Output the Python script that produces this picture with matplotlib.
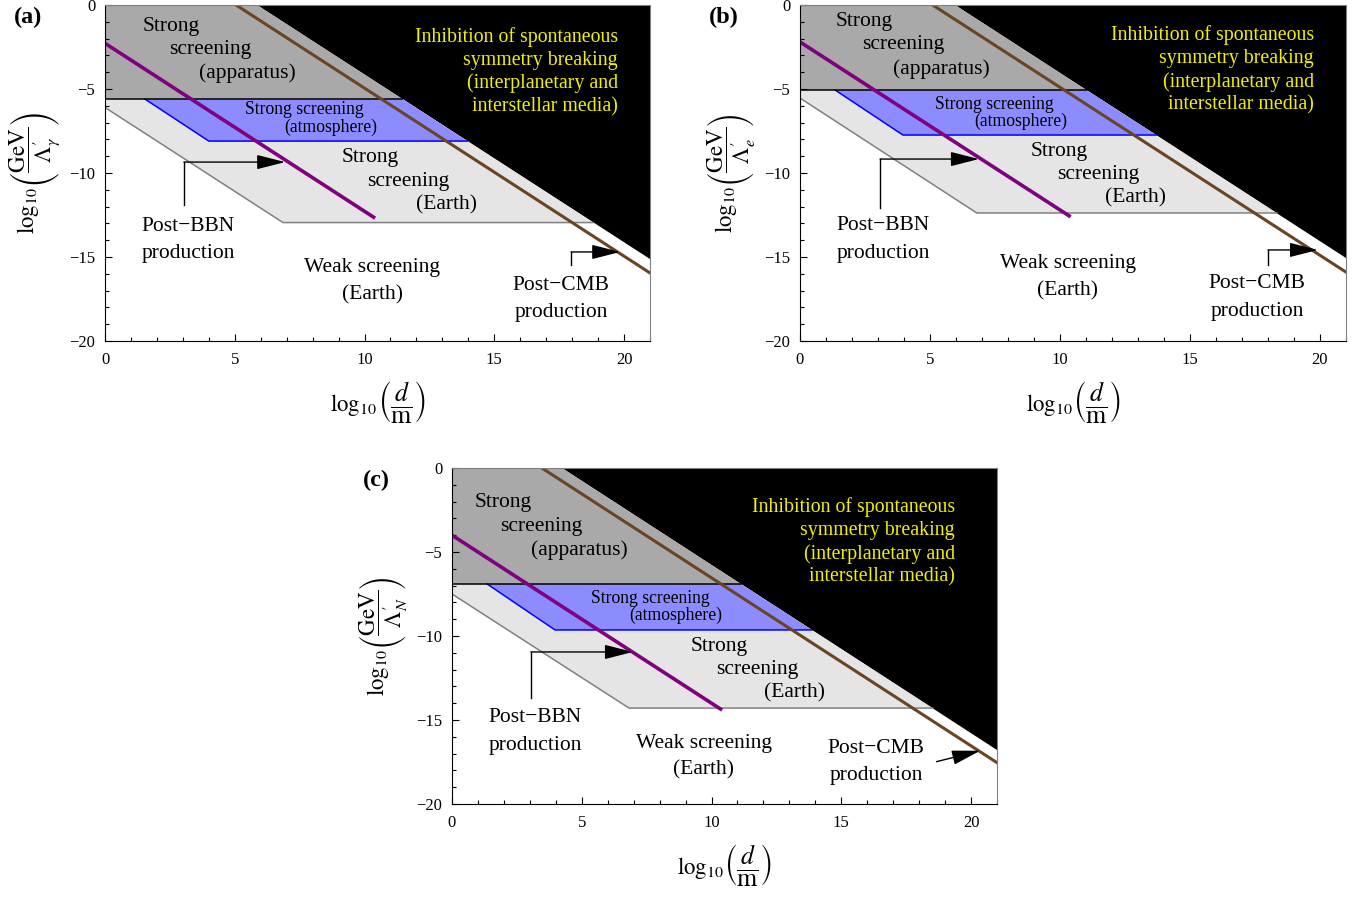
import matplotlib
matplotlib.use("Agg")
import matplotlib.pyplot as plt
from matplotlib.patches import Polygon
from matplotlib.ticker import MultipleLocator

plt.rcParams['font.family'] = 'serif'
plt.rcParams['font.serif'] = ['Liberation Serif', 'DejaVu Serif']
plt.rcParams['mathtext.fontset'] = 'stix'

# per panel values (log10 units)
panel_names = ['(a)', '(b)', '(c)']
coupling = [r'\gamma', r'e', r'N']
black_edge = [5.86, 5.96, 4.23]      # y = c - x, lower edge of the black region
cmb_line = [5.05, 5.10, 3.46]        # y = c - x, post-CMB production
bbn_line = [-2.28, -2.20, -4.00]     # y = c - x, post-BBN production
bbn_end = [10.35, 10.35, 10.35]
apparatus_y = [-5.60, -5.06, -6.90]
atmos_y = [-8.10, -7.74, -9.64]
atmos_x_top = [1.54, 1.35, 1.35]
atmos_x_bot = [4.00, 3.96, 3.97]
earth_y_left = [-6.10, -5.54, -7.50]
earth_y = [-12.95, -12.38, -14.29]
earth_x_bot = [6.86, 6.80, 6.82]

XMAX, YMIN = 21, -20

DARK_GRAY = '#a9a9a9'
LIGHT_GRAY = '#e5e5e5'
BLUE_FILL = '#8c8cff'
BROWN = '#6b4523'
PURPLE = '#800080'
YELLOW = '#f0f000'

# figure-pixel layout of the three axes: left, right, top, bottom
boxes = [(105, 650, 5, 341), (800, 1346, 5, 341), (452, 997, 468, 804)]
panel_label_px = [(28, 17), (724, 17), (376, 480)]

# text positions (data coords) per panel
txt_app = [[(2.54, -1.25), (4.05, -2.62), (5.50, -4.05)],
           [(2.46, -1.00), (3.96, -2.38), (5.42, -3.80)],
           [(1.97, -2.08), (3.43, -3.51), (4.89, -4.88)]]
txt_atm = [[(7.67, -6.25), (8.70, -7.26)],
           [(7.46, -5.90), (8.50, -6.90)],
           [(7.63, -7.74), (8.63, -8.75)]]
txt_earth = [[(10.20, -9.05), (11.68, -10.50), (13.14, -11.90)],
             [(9.96, -8.70), (11.46, -10.06), (12.90, -11.50)],
             [(10.29, -10.60), (11.75, -12.00), (13.20, -13.40)]]
txt_weak = [(10.29, -15.65), (10.30, -15.40), (9.71, -16.37)]
txt_bbn = [(3.2, -13.20), (3.2, -13.15), (3.2, -14.88)]
txt_cmb = [(17.57, -16.67), (17.58, -16.60), (16.34, -16.67)]
txt_yellow = [(19.77, -1.90), (19.77, -1.80), (19.38, -2.32)]

bbn_arrow = [(3.04, -11.90, -9.35, 6.94), (3.08, -12.10, -9.17, 6.88),
             (3.04, -13.70, -10.95, 6.97)]
cmb_arrow = [(17.96, -15.50, -14.70, 19.85), (18.00, -15.50, -14.58, 19.92), None]

W, H = 1369, 898
fig = plt.figure(figsize=(W / 100, H / 100), dpi=100)

FS = 15.5
LINE = 1.62  # line spacing in data units


def draw_panel(i):
    l, r, t, b = boxes[i]
    ax = fig.add_axes([l / W, 1 - b / H, (r - l) / W, (b - t) / H])
    ax.set_xlim(0, XMAX)
    ax.set_ylim(YMIN, 0)

    c = black_edge[i]
    ya, yb, ye = apparatus_y[i], atmos_y[i], earth_y[i]

    ax.add_patch(Polygon([(c, 0), (XMAX, 0), (XMAX, c - XMAX)], closed=True,
                         facecolor='black', edgecolor='none', zorder=1))
    ax.add_patch(Polygon([(0, 0), (c, 0), (c - ya, ya), (0, ya)], closed=True,
                         facecolor=DARK_GRAY, edgecolor='none', zorder=1))
    ax.add_patch(Polygon([(0, ya), (c - ya, ya), (c - ye, ye), (earth_x_bot[i], ye),
                          (0, earth_y_left[i])], closed=True,
                         facecolor=LIGHT_GRAY, edgecolor='none', zorder=1))
    ax.add_patch(Polygon([(atmos_x_top[i], ya), (c - ya, ya), (c - yb, yb),
                          (atmos_x_bot[i], yb)], closed=True,
                         facecolor=BLUE_FILL, edgecolor='none', zorder=2))
    ax.plot([0, earth_x_bot[i], c - ye], [earth_y_left[i], ye, ye],
            color='#808080', lw=1.1, zorder=3)
    ax.plot([atmos_x_top[i], atmos_x_bot[i], c - yb], [ya, yb, yb],
            color='#0000ff', lw=1.1, zorder=3)
    ax.plot([0, c - ya], [ya, ya], color='black', lw=1.1, zorder=3)

    # production lines
    ax.plot([cmb_line[i], XMAX], [0, cmb_line[i] - XMAX], color=BROWN, lw=2.2, zorder=4)
    ax.plot([0, bbn_end[i]], [bbn_line[i], bbn_line[i] - bbn_end[i]],
            color=PURPLE, lw=2.6, zorder=4)

    # texts
    for (x, y), s in zip(txt_app[i], ['Strong', 'screening', '(apparatus)']):
        ax.text(x, y, s, ha='center', va='center', fontsize=FS, zorder=6)
    for (x, y), s in zip(txt_atm[i], ['Strong screening', '(atmosphere)']):
        ax.text(x, y, s, ha='center', va='center', fontsize=12.7, zorder=6)
    for (x, y), s in zip(txt_earth[i], ['Strong', 'screening', '(Earth)']):
        ax.text(x, y, s, ha='center', va='center', fontsize=FS, zorder=6)
    x, y = txt_weak[i]
    ax.text(x, y, 'Weak screening', ha='center', va='center', fontsize=FS, zorder=6)
    ax.text(x, y - LINE, '(Earth)', ha='center', va='center', fontsize=FS, zorder=6)
    x, y = txt_bbn[i]
    ax.text(x, y, 'Post\u2212BBN', ha='center', va='center', fontsize=FS, zorder=6)
    ax.text(x, y - LINE, 'production', ha='center', va='center', fontsize=FS, zorder=6)
    x, y = txt_cmb[i]
    ax.text(x, y, 'Post\u2212CMB', ha='center', va='center', fontsize=FS, zorder=6)
    ax.text(x, y - LINE, 'production', ha='center', va='center', fontsize=FS, zorder=6)
    x, y = txt_yellow[i]
    for k, s in enumerate(['Inhibition of spontaneous', 'symmetry breaking',
                           '(interplanetary and', 'interstellar media)']):
        ax.text(x, y - k * 1.39, s, ha='right', va='center', fontsize=14.3,
                color=YELLOW, zorder=6)

    # arrows
    ap = dict(arrowstyle='-|>,head_length=1.1,head_width=0.28', color='black',
              lw=1.0, mutation_scale=16, shrinkA=0, shrinkB=0)
    x0, y0, yc, xt = bbn_arrow[i]
    ax.plot([x0, x0], [y0, yc], color='black', lw=1.0, zorder=5)
    ax.annotate('', xy=(xt, yc), xytext=(x0, yc), arrowprops=ap, zorder=5)
    if cmb_arrow[i] is not None:
        x0, y0, yc, xt = cmb_arrow[i]
        ax.plot([x0, x0], [y0, yc], color='black', lw=1.0, zorder=5)
        ax.annotate('', xy=(xt, yc), xytext=(x0, yc), arrowprops=ap, zorder=5)
    else:
        ax.annotate('', xy=(20.35, -16.83), xytext=(18.67, -17.48),
                    arrowprops=ap, zorder=5)

    # axes styling
    ax.xaxis.set_major_locator(MultipleLocator(5))
    ax.xaxis.set_minor_locator(MultipleLocator(1))
    ax.yaxis.set_major_locator(MultipleLocator(5))
    ax.yaxis.set_minor_locator(MultipleLocator(1))
    ax.tick_params(which='both', direction='in', top=False, right=False,
                   labelsize=12, width=0.8)
    ax.tick_params(axis='x', which='major', pad=8)
    ax.tick_params(axis='y', which='major', pad=7)
    ax.tick_params(which='major', length=5)
    ax.tick_params(which='minor', length=3)
    for sp in ax.spines.values():
        sp.set_linewidth(0.8)
        sp.set_zorder(7)
    ax.spines['top'].set_color('#808080')
    ax.spines['right'].set_color('#808080')

    ax.set_ylabel(r'$\log_{10}\!\left(\dfrac{\mathrm{GeV}}{\Lambda^{\prime}_{%s}}\right)$'
                  % coupling[i], fontsize=16.5)
    ax.yaxis.set_label_coords(-0.077, 0.5)

    # x label: log part plus a somewhat larger fraction, as in the original
    lg = ax.text(0.5, -0.19, r'$\log_{10}$', transform=ax.transAxes,
                 ha='right', va='center', fontsize=16.5)
    ax.annotate(r'$\left(\dfrac{d}{\mathrm{m}}\right)$', xy=(1.0, 0.62), xycoords=lg,
                ha='left', va='center', fontsize=18.5, annotation_clip=False)

    px, py = panel_label_px[i]
    fig.text(px / W, 1 - py / H, panel_names[i], fontsize=17.5, fontweight='bold',
             ha='center', va='center')


for i in range(3):
    draw_panel(i)

fig.savefig('out.png', dpi=100)
